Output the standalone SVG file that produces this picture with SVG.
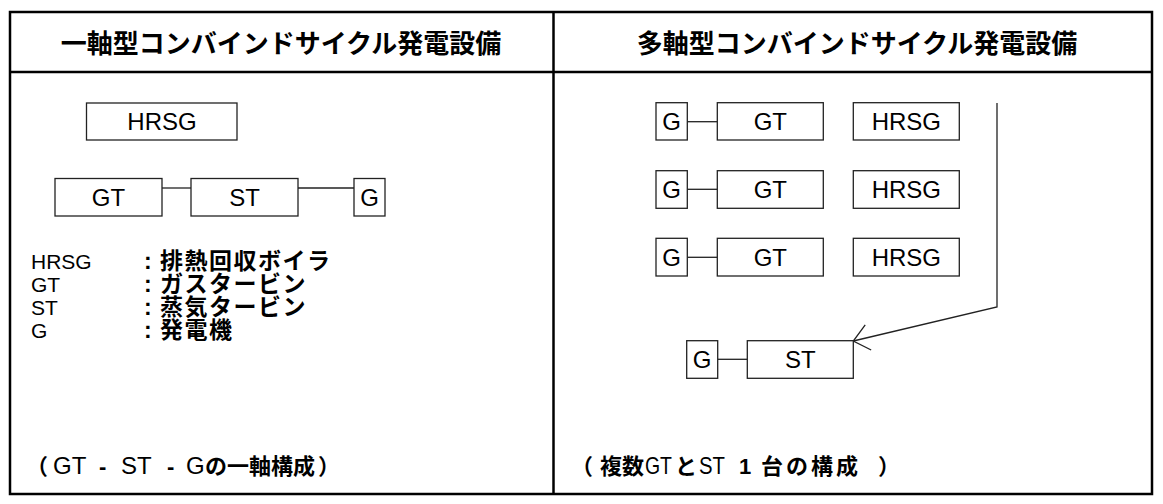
<svg xmlns="http://www.w3.org/2000/svg" width="1163" height="504" viewBox="0 0 1163 504">
<defs>
<style>
.frame{fill:none;stroke:#000;stroke-width:2.5}
.box{fill:#fff;stroke:#222;stroke-width:1.3}
.conn{fill:none;stroke:#222;stroke-width:1.3}
.lbl{font-family:"Liberation Sans",Arial,sans-serif;font-size:24px;fill:#000;text-anchor:middle}
.lat{font-family:"Liberation Sans",Arial,sans-serif;font-size:21px;fill:#000}
.jp{font-family:"Liberation Sans","Noto Sans CJK JP",sans-serif;font-weight:bold;fill:#000}
.hdr{font-size:26px;text-anchor:middle}
.leg{font-size:23px;letter-spacing:1.5px}
.bot{font-size:22px}
.bl{font-family:"Liberation Sans",Arial,sans-serif;font-weight:normal;font-size:24px}
</style>
<marker id="open" viewBox="-17 -14 18 28" markerWidth="18" markerHeight="28" refX="0" refY="0" orient="auto" markerUnits="userSpaceOnUse" overflow="visible">
<path d="M-15.3,-12.9 L0,0 L-15.3,12.9" fill="none" stroke="#222" stroke-width="1.3"/>
</marker>
</defs>
<rect width="1163" height="504" fill="#fff"/>
<g id="frame">
<rect class="frame" x="10" y="12" width="1142" height="482"/>
<line class="frame" x1="10" y1="72" x2="1152" y2="72"/>
<line class="frame" x1="553.5" y1="12" x2="553.5" y2="494"/>
</g>
<g id="headers">
<text class="jp hdr" x="281" y="53">一軸型コンバインドサイクル発電設備</text>
<text class="jp hdr" x="857" y="53">多軸型コンバインドサイクル発電設備</text>
</g>
<g id="connectors">
<line class="conn" x1="162" y1="188" x2="191" y2="188"/>
<line class="conn" x1="298" y1="188" x2="354" y2="188"/>
<line class="conn" x1="687" y1="121.7" x2="717" y2="121.7"/>
<line class="conn" x1="687" y1="189.3" x2="717" y2="189.3"/>
<line class="conn" x1="687" y1="257.3" x2="717" y2="257.3"/>
<line class="conn" x1="717.7" y1="359.3" x2="747.3" y2="359.3"/>
<polyline class="conn" points="997,103 997,307 853.3,341" marker-end="url(#open)"/>
</g>
<g id="L-HRSG"><rect class="box" x="86.5" y="103" width="150.5" height="37"/><text class="lbl" x="162" y="130">HRSG</text></g>
<g id="L-GT"><rect class="box" x="55" y="178.5" width="107" height="37.5"/><text class="lbl" x="108.5" y="206">GT</text></g>
<g id="L-ST"><rect class="box" x="191" y="178.5" width="107" height="37.5"/><text class="lbl" x="244.5" y="206">ST</text></g>
<g id="L-G"><rect class="box" x="354" y="178.5" width="31" height="37.5"/><text class="lbl" x="369.5" y="206">G</text></g>
<g id="legend">
<text class="lat" x="31" y="269">HRSG</text>
<text class="lat" x="31" y="292">GT</text>
<text class="lat" x="31" y="315">ST</text>
<text class="lat" x="31" y="338">G</text>
<text class="jp leg" x="144" y="269">:<tspan x="160">排熱回収ボイラ</tspan></text>
<text class="jp leg" x="144" y="292">:<tspan x="160">ガスタービン</tspan></text>
<text class="jp leg" x="144" y="315">:<tspan x="160">蒸気タービン</tspan></text>
<text class="jp leg" x="144" y="338">:<tspan x="160">発電機</tspan></text>
</g>
<g id="R1-G"><rect class="box" x="656" y="102.7" width="31.3" height="37.3"/><text class="lbl" x="671.7" y="130">G</text></g>
<g id="R1-GT"><rect class="box" x="717.3" y="102.7" width="106" height="37.3"/><text class="lbl" x="770.3" y="130">GT</text></g>
<g id="R1-HRSG"><rect class="box" x="853.3" y="102.7" width="106" height="37.3"/><text class="lbl" x="906.3" y="130">HRSG</text></g>
<g id="R2-G"><rect class="box" x="656" y="170.7" width="31.3" height="37.6"/><text class="lbl" x="671.7" y="198">G</text></g>
<g id="R2-GT"><rect class="box" x="717.3" y="170.7" width="106" height="37.6"/><text class="lbl" x="770.3" y="198">GT</text></g>
<g id="R2-HRSG"><rect class="box" x="853.3" y="170.7" width="106" height="37.6"/><text class="lbl" x="906.3" y="198">HRSG</text></g>
<g id="R3-G"><rect class="box" x="656" y="238.3" width="31.3" height="37.7"/><text class="lbl" x="671.7" y="266">G</text></g>
<g id="R3-GT"><rect class="box" x="717.3" y="238.3" width="106" height="37.7"/><text class="lbl" x="770.3" y="266">GT</text></g>
<g id="R3-HRSG"><rect class="box" x="853.3" y="238.3" width="106" height="37.7"/><text class="lbl" x="906.3" y="266">HRSG</text></g>
<g id="R-G"><rect class="box" x="686.7" y="340.7" width="31" height="37.6"/><text class="lbl" x="702.2" y="368">G</text></g>
<g id="R-ST"><rect class="box" x="747.3" y="340.7" width="106" height="37.6"/><text class="lbl" x="800.3" y="368">ST</text></g>
<g id="captions">
<text class="jp bot" x="26" y="474">（<tspan class="bl" x="53">GT</tspan><tspan x="99">-</tspan><tspan class="bl" x="121">ST</tspan><tspan x="167">-</tspan><tspan class="bl" x="186">G</tspan><tspan x="205">の一軸構成</tspan><tspan x="318">）</tspan></text>
<text class="jp bot" x="571" y="474">（<tspan x="600">複数</tspan><tspan class="bl" x="645" textLength="27" lengthAdjust="spacingAndGlyphs">GT</tspan><tspan x="675">と</tspan><tspan class="bl" x="699" textLength="26" lengthAdjust="spacingAndGlyphs">ST</tspan><tspan x="739">1</tspan><tspan x="761" letter-spacing="3">台の構成</tspan><tspan x="878">）</tspan></text>
</g>
</svg>
